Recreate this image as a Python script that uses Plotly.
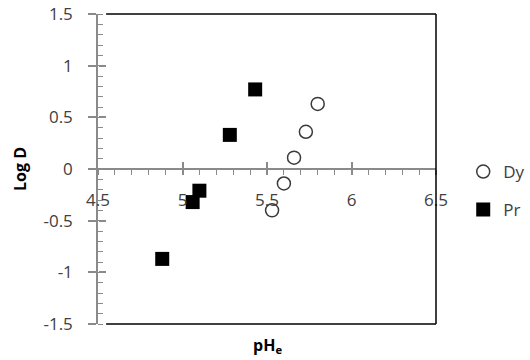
import plotly.graph_objects as go

dy_x = [5.53, 5.60, 5.66, 5.73, 5.80]
dy_y = [-0.40, -0.14, 0.11, 0.36, 0.63]
pr_x = [4.88, 5.06, 5.10, 5.28, 5.43]
pr_y = [-0.87, -0.32, -0.21, 0.33, 0.77]

x_ticks = [4.5, 5, 5.5, 6, 6.5]
y_ticks = [-1.5, -1, -0.5, 0, 0.5, 1, 1.5]

FONT = "Open Sans"
GRAY = "#8a8a8a"
TXT = "#404040"
FS = 17

fig = go.Figure()
fig.add_trace(go.Scatter(
    x=dy_x, y=dy_y, mode="markers", name="Dy",
    marker=dict(symbol="circle-open", size=13, color="#3a3a3a", line=dict(width=1.5, color="#3a3a3a")),
    legend="legend"))
fig.add_trace(go.Scatter(
    x=pr_x, y=pr_y, mode="markers", name="Pr",
    marker=dict(symbol="square", size=14, color="black"),
    legend="legend2"))
# empty trace to realise the overlay axes (tick marks crossing the axes)
fig.add_trace(go.Scatter(x=[], y=[], xaxis="x2", yaxis="y2", showlegend=False, hoverinfo="skip"))

xr = [4.5, 6.5]
yr = [-1.5, 1.5]

fig.update_layout(
    width=530, height=360,
    margin=dict(l=98, r=94, t=14, b=36, autoexpand=False),
    paper_bgcolor="white", plot_bgcolor="white",
    font=dict(family=FONT, size=FS, color=TXT),
    xaxis=dict(range=xr, anchor="free", position=0.5, showgrid=False, zeroline=False,
               automargin=False,
               showline=True, linecolor=GRAY, linewidth=1.5,
               tickvals=x_ticks, ticktext=[str(v) for v in x_ticks],
               ticks="outside", ticklen=5, tickcolor=GRAY, tickwidth=1.5,
               ticklabelstandoff=11,
               minor=dict(dtick=0.1, ticks="outside", ticklen=5, tickcolor=GRAY, tickwidth=1),
               tickfont=dict(family=FONT, size=FS, color=TXT)),
    yaxis=dict(range=yr, showgrid=False, zeroline=False, automargin=False,
               showline=True, linecolor=GRAY, linewidth=1.5,
               tickvals=y_ticks, ticktext=[("%g" % v) for v in y_ticks],
               ticks="outside", ticklen=8, tickcolor=GRAY, tickwidth=1.5,
               ticklabelstandoff=12,
               minor=dict(dtick=0.1, ticks="inside", ticklen=5, tickcolor=GRAY, tickwidth=1),
               tickfont=dict(family=FONT, size=FS, color=TXT)),
    xaxis2=dict(range=xr, overlaying="x", anchor="free", position=0.5, showgrid=False,
                automargin=False,
                zeroline=False, showline=False, tickvals=x_ticks, showticklabels=False,
                ticks="inside", ticklen=7, tickcolor=GRAY, tickwidth=1.5),
    yaxis2=dict(range=yr, overlaying="y", anchor="free", position=0, showgrid=False,
                automargin=False,
                zeroline=False, showline=False, tickvals=y_ticks, showticklabels=False,
                ticks="inside", ticklen=7, tickcolor=GRAY, tickwidth=1.5),
    legend=dict(xref="container", yref="container", x=0.874, y=1 - 172 / 360,
                xanchor="left", yanchor="middle",
                font=dict(family=FONT, size=FS, color=TXT), bgcolor="rgba(0,0,0,0)"),
    legend2=dict(xref="container", yref="container", x=0.874, y=1 - 210 / 360,
                 xanchor="left", yanchor="middle",
                 font=dict(family=FONT, size=FS, color=TXT), bgcolor="rgba(0,0,0,0)"),
    showlegend=True,
)

# plot border (top, right, bottom)
for (x0, y0, x1, y1) in [(0.024, 1, 1, 1), (1, 0, 1, 1), (0.024, 0, 1, 0)]:
    fig.add_shape(type="line", xref="paper", yref="paper", x0=x0, y0=y0, x1=x1, y1=y1,
                  line=dict(color="black", width=1.5))

fig.add_annotation(text="<b>Log D</b>", xref="paper", yref="paper", x=-0.231, y=0.5,
                   textangle=-90, showarrow=False, xanchor="center", yanchor="middle",
                   font=dict(family=FONT, size=16, color="black"))
fig.add_annotation(text="<b>pH<sub>e</sub></b>", xref="paper", yref="paper", x=0.5, y=-0.068,
                   showarrow=False, xanchor="center", yanchor="middle",
                   font=dict(family=FONT, size=16, color="black"))

fig.write_html("out.html")
